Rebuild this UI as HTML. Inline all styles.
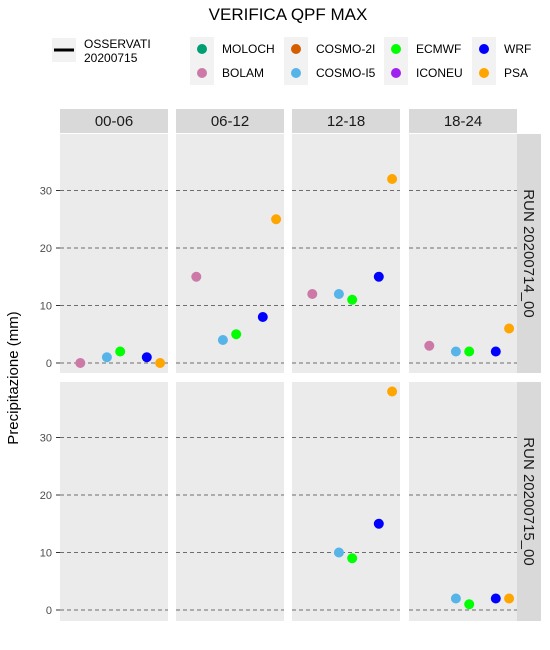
<!DOCTYPE html>
<html><head><meta charset="utf-8"><style>
body{margin:0;background:#fff;}
svg{display:block;font-family:"Liberation Sans",sans-serif;}
</style></head><body>
<svg id="chart" width="550" height="650"></svg>
<script>
const models = ["MOLOCH","BOLAM","COSMO-2I","COSMO-I5","ECMWF","ICONEU","WRF","PSA"];
const colors = ["#009E73","#CC79A7","#D55E00","#56B4E9","#00FF00","#A020F0","#0000FF","#FFA500"];
const periods = ["00-06","06-12","12-18","18-24"];
const runs = ["RUN 20200714_00","RUN 20200715_00"];
const yTicks = [0,10,20,30];
// values[run][period][model], null = missing
const run1 = [
 [null,0,null,1,2,null,1,0],
 [null,15,null,4,5,null,8,25],
 [null,12,null,12,11,null,15,32],
 [null,3,null,2,2,null,2,6]
];
const run2 = [
 [null,null,null,null,null,null,null,null],
 [null,null,null,null,null,null,null,null],
 [null,null,null,10,9,null,15,38],
 [null,null,null,2,1,null,2,2]
];
const values = [run1, run2];

const NS="http://www.w3.org/2000/svg";
const svg=document.getElementById('chart');
function mk(tag,attrs,parent){const e=document.createElementNS(NS,tag);for(const k in attrs)e.setAttribute(k,attrs[k]);(parent||svg).appendChild(e);return e;}
const colX=[60,176,292,409], colW=108;
const rowY=[134,382], rowH=239;
const zeroY=[363,610], pxPer=5.75;
function yScale(r,v){return zeroY[r]-v*pxPer;}
function xScale(c,m){return colX[c]+7+m*13.3;}

let t=mk('text',{x:288,y:20,'text-anchor':'middle','font-size':17,fill:'#000'});t.textContent='VERIFICA QPF MAX';



// legend
let lg=mk('g',{});


mk('rect',{x:52,y:38,width:24,height:24,fill:'#F2F2F2'},lg);
mk('line',{x1:54,x2:74,y1:50,y2:50,stroke:'#000','stroke-width':3},lg);
t=mk('text',{x:84,y:48,'font-size':12},lg);t.textContent='OSSERVATI';
t=mk('text',{x:84,y:62,'font-size':12},lg);t.textContent='20200715';
const lgX=[190,284,384,472];
models.forEach((m,i)=>{
  const cx=lgX[Math.floor(i/2)], cy=37+(i%2)*24;
  const g=mk('g',{},lg);
  
  
  mk('rect',{x:cx,y:cy,width:24,height:24,fill:'#F2F2F2'},g);
  mk('circle',{cx:cx+12,cy:cy+12,r:5,fill:colors[i]},g);
  const tt=mk('text',{x:cx+32,y:cy+16,'font-size':12},g);tt.textContent=m;
});

// y label
t=mk('text',{x:0,y:0,'font-size':15,'text-anchor':'middle',transform:'translate(18,378) rotate(-90)'});t.textContent='Precipitazione (mm)';



periods.forEach((p,c)=>{
  const s=mk('rect',{x:colX[c],y:109,width:colW,height:24,fill:'#D9D9D9'});
  
  
  const st=mk('text',{x:colX[c]+colW/2,y:126,'text-anchor':'middle','font-size':15,fill:'#1a1a1a'});st.textContent=p;
});
runs.forEach((rn,r)=>{
  const s=mk('rect',{x:517,y:rowY[r],width:24,height:rowH,fill:'#D9D9D9'});
  
  
  const st=mk('text',{x:0,y:0,'text-anchor':'middle','font-size':15,fill:'#1a1a1a',transform:`translate(524,${rowY[r]+rowH/2}) rotate(90)`});st.textContent=rn;
  yTicks.forEach(v=>{
    const tl=mk('text',{x:52,y:yScale(r,v)+4,'text-anchor':'end','font-size':11,fill:'#4d4d4d'});tl.textContent=v;
    mk('line',{x1:56,x2:60,y1:yScale(r,v),y2:yScale(r,v),stroke:'#333'});
  });
  periods.forEach((p,c)=>{
    const pn=mk('rect',{x:colX[c],y:rowY[r],width:colW,height:rowH,fill:'#EBEBEB'});
    
    
    yTicks.forEach(v=>mk('line',{x1:colX[c],x2:colX[c]+colW,y1:yScale(r,v),y2:yScale(r,v),stroke:'#444','stroke-width':0.8,'stroke-dasharray':'4,3'}));
    values[r][c].forEach((v,m)=>{
      if(v===null)return;
      const pt=mk('circle',{cx:xScale(c,m),cy:yScale(r,v),r:5,fill:colors[m]});
      
      
    });
  });
});
</script>
</body></html>
